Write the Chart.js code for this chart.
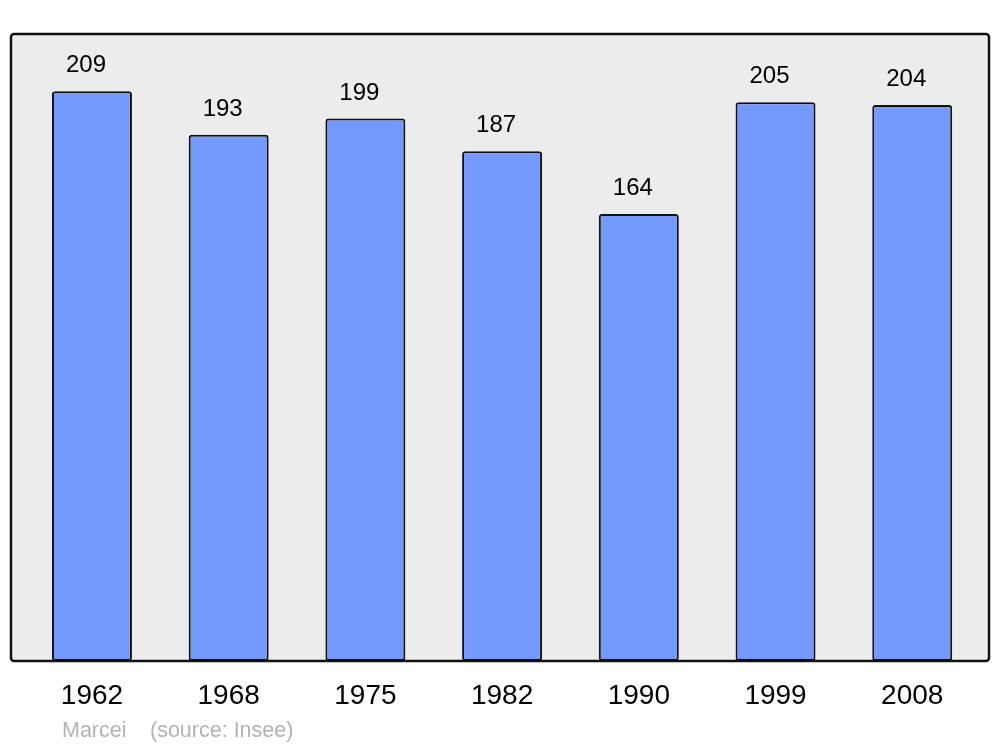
<!DOCTYPE html>
<html>
<head>
<meta charset="utf-8">
<script src="https://cdn.jsdelivr.net/npm/chart.js@4/dist/chart.umd.min.js"></script>
<style>
  html, body { margin: 0; padding: 0; background: #fff; }
  #wrap { width: 1000px; height: 747px; position: relative; }
</style>
</head>
<body>
<div id="wrap"><canvas id="popChart"></canvas></div>
<script>
const years = ['1962', '1968', '1975', '1982', '1990', '1999', '2008'];
const population = [209, 193, 199, 187, 164, 205, 204];
const credits = ['Marcei', '(source: Insee)'];

// grey rounded frame behind the bars
const framePlugin = {
  id: 'frame',
  beforeDatasetsDraw(chart) {
    const { ctx, chartArea } = chart;
    const x = chartArea.left - 12.6, y = chartArea.top;
    const w = chartArea.right + 8.4 - x, h = chartArea.bottom - y;
    ctx.save();
    ctx.beginPath();
    ctx.roundRect(x, y, w, h, 3);
    ctx.fillStyle = '#ececec';
    ctx.fill();
    ctx.restore();
  },
  afterDatasetsDraw(chart) {
    const { ctx, chartArea } = chart;
    const x = chartArea.left - 12.6, y = chartArea.top;
    const w = chartArea.right + 8.4 - x, h = chartArea.bottom - y;
    ctx.save();
    ctx.beginPath();
    ctx.roundRect(x, y, w, h, 3);
    ctx.lineWidth = 2.5;
    ctx.strokeStyle = '#111';
    ctx.stroke();

    // value labels above bars
    ctx.font = '24px "Liberation Sans", Arial, sans-serif';
    ctx.fillStyle = '#000';
    ctx.textAlign = 'center';
    ctx.textBaseline = 'alphabetic';
    chart.getDatasetMeta(0).data.forEach((bar, i) => {
      ctx.fillText(population[i], bar.x - 6, bar.y - 19);
    });

    // credits
    ctx.font = '21.5px "Liberation Sans", Arial, sans-serif';
    ctx.fillStyle = '#b3b3b3';
    ctx.textAlign = 'left';
    ctx.textBaseline = 'middle';
    ctx.fillText(credits[0], 62, 731);
    ctx.fillText(credits[1], 150, 731);
    ctx.restore();
  }
};

new Chart(document.getElementById('popChart'), {
  type: 'bar',
  data: {
    labels: years,
    datasets: [{
      data: population,
      backgroundColor: '#7499ff',
      borderColor: '#111',
      borderWidth: 2,
      borderRadius: 3,
      borderSkipped: false,
      barPercentage: 0.585,
      categoryPercentage: 1
    }]
  },
  options: {
    responsive: true,
    maintainAspectRatio: false,
    animation: false,
    layout: { padding: { left: 23.6, right: 19.4, top: 34, bottom: 16.4 } },
    plugins: {
      legend: { display: false },
      tooltip: { enabled: false }
    },
    scales: {
      x: {
        grid: { display: false, drawTicks: false },
        border: { display: false },
        ticks: {
          color: '#000',
          padding: 18,
          font: { family: '"Liberation Sans", Arial, sans-serif', size: 28 }
        }
      },
      y: {
        display: false,
        min: 0,
        max: 230
      }
    }
  },
  plugins: [framePlugin]
});
</script>
</body>
</html>
